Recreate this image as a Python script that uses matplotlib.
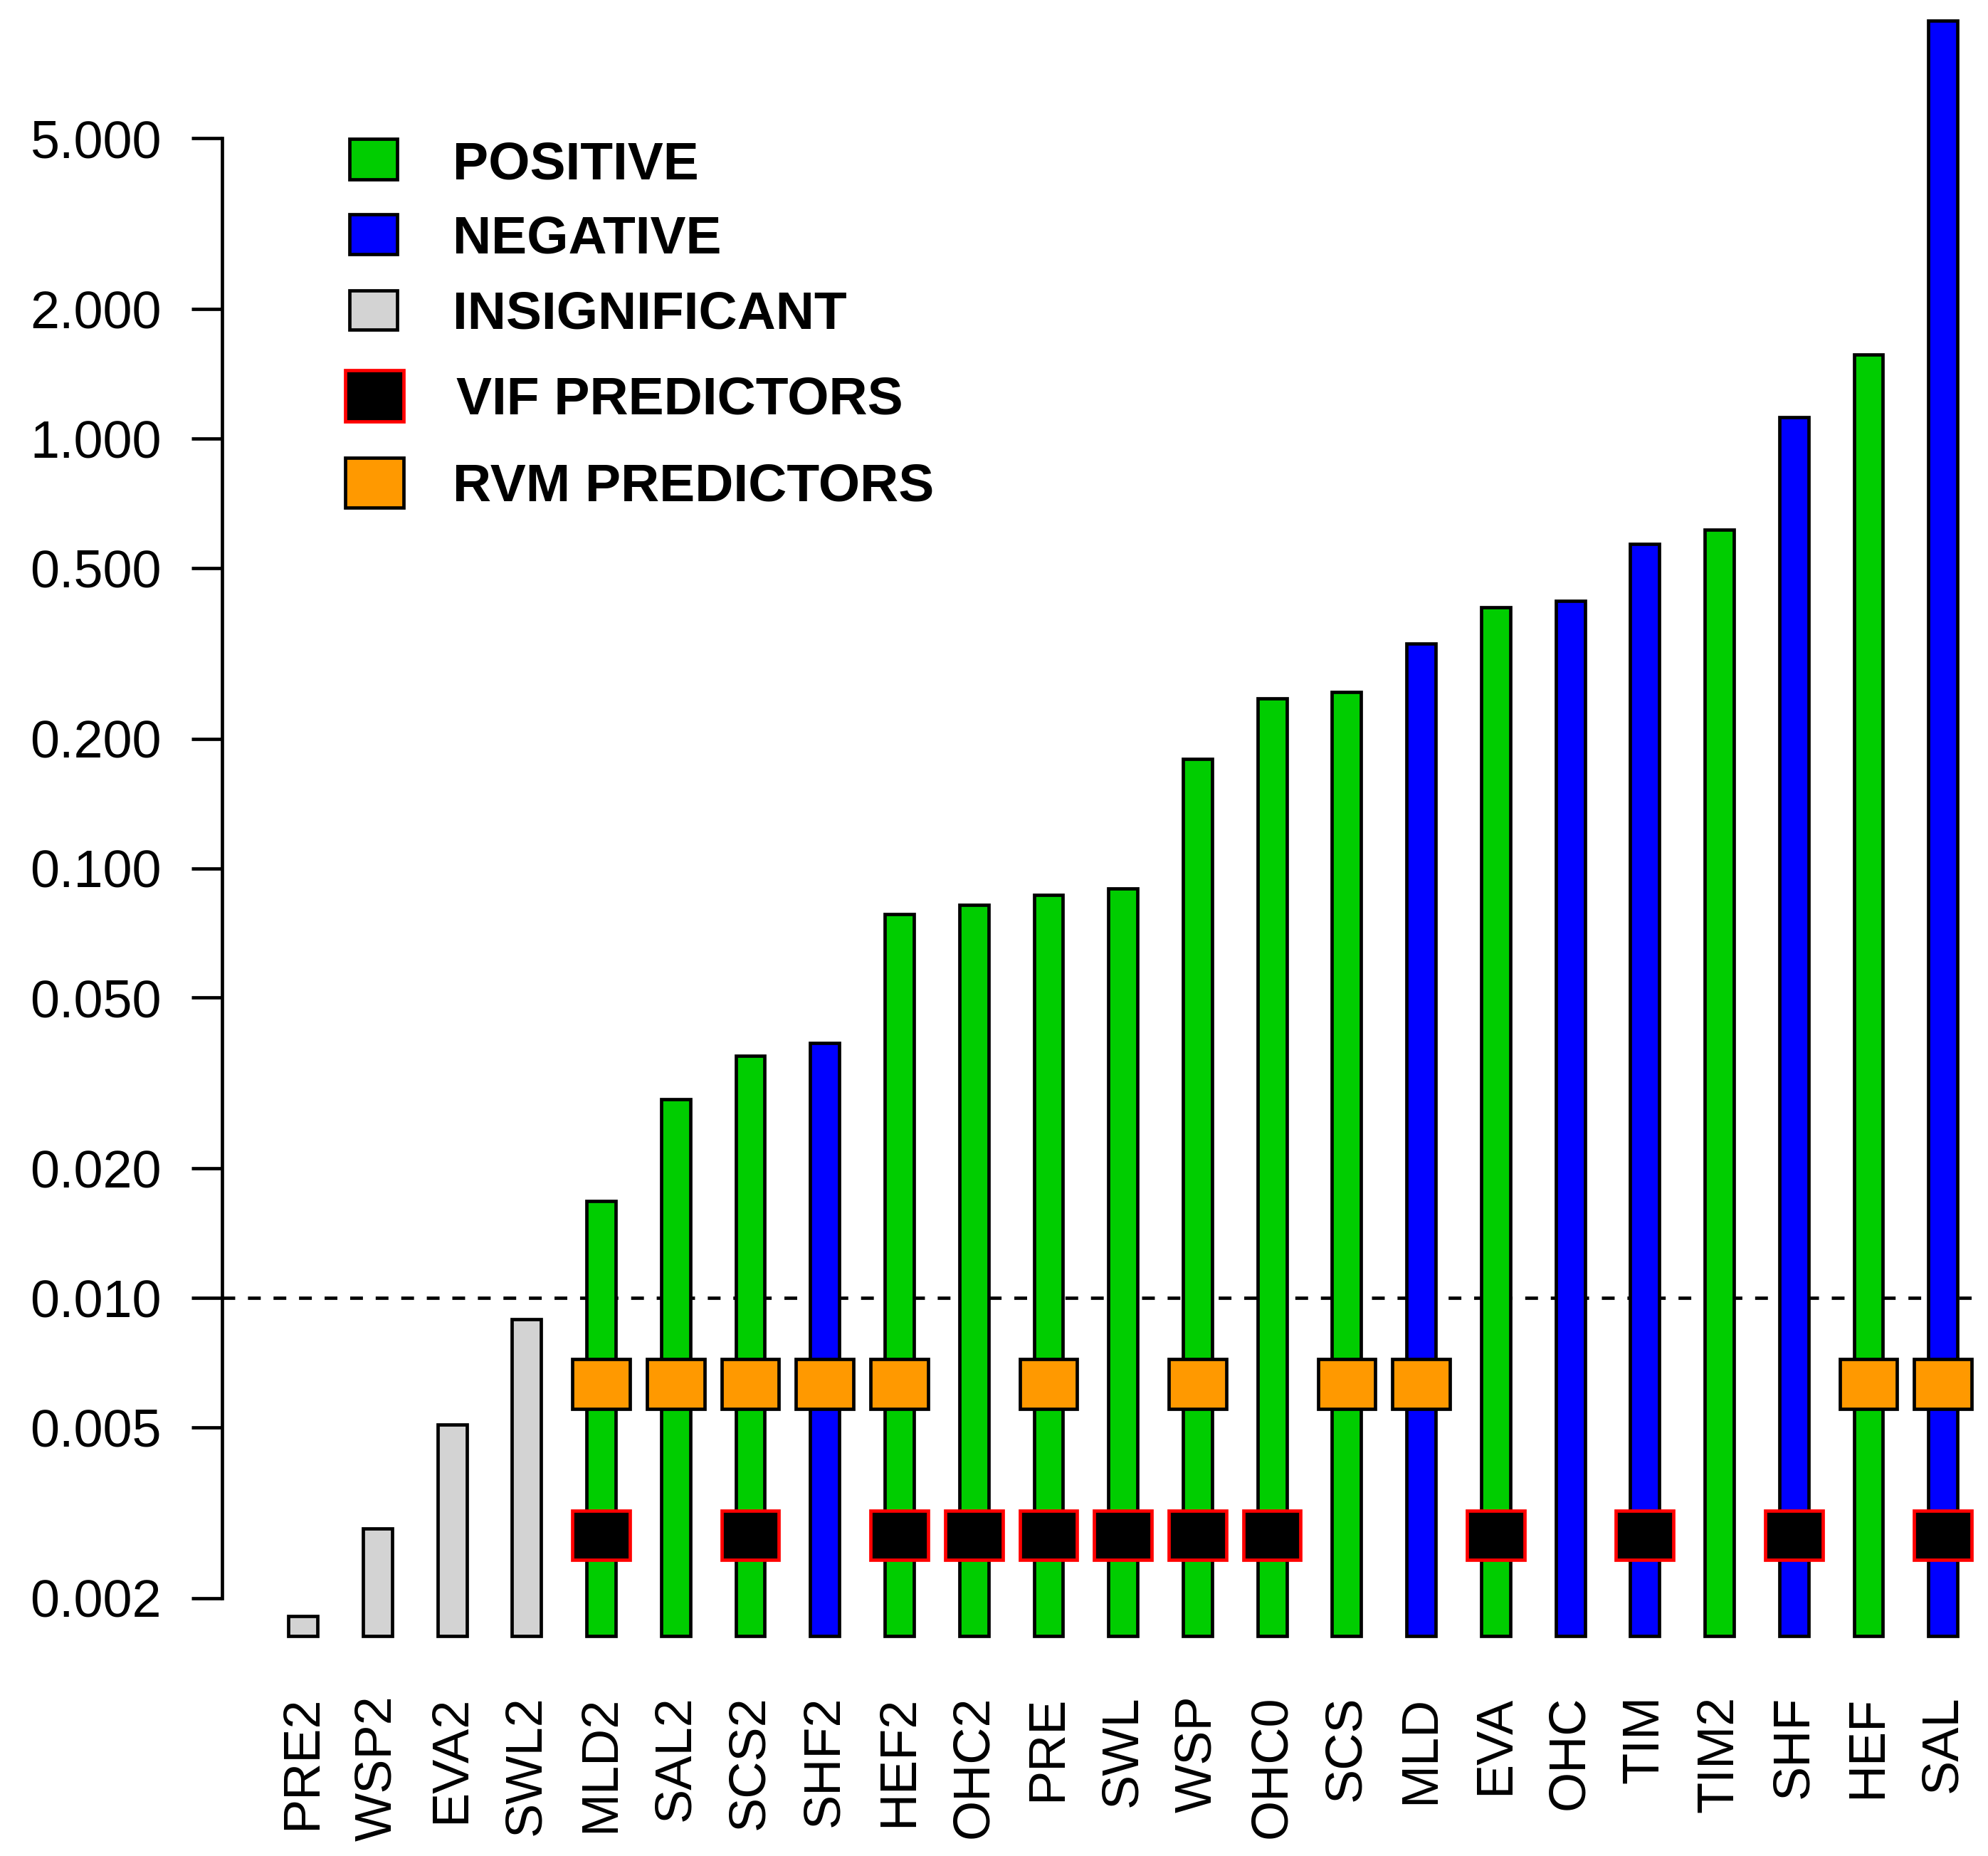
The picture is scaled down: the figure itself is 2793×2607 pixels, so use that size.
import matplotlib
matplotlib.use("Agg")
import matplotlib.pyplot as plt
from matplotlib.patches import Rectangle

plt.rcParams['font.family'] = ['Liberation Sans', 'DejaVu Sans']

# predictors, sorted by importance
names = ["PRE2", "WSP2", "EVA2", "SWL2", "MLD2", "SAL2", "SCS2", "SHF2", "HEF2",
         "OHC2", "PRE", "SWL", "WSP", "OHC0", "SCS", "MLD", "EVA", "OHC", "TIM",
         "TIM2", "SHF", "HEF", "SAL"]
values = [0.00182, 0.00290, 0.00507, 0.00891, 0.0168, 0.0290, 0.0366, 0.0392,
          0.0783, 0.0821, 0.0867, 0.0897, 0.1795, 0.248, 0.257, 0.333, 0.405,
          0.419, 0.569, 0.613, 1.12, 1.57, 9.4]
# P = positive, N = negative, I = insignificant
effect = ["I", "I", "I", "I", "P", "P", "P", "N", "P", "P", "P", "P", "P", "P",
          "P", "N", "P", "N", "N", "P", "N", "P", "N"]
rvm_predictors = ["MLD2", "SAL2", "SCS2", "SHF2", "HEF2", "PRE", "WSP", "SCS",
                  "MLD", "HEF", "SAL"]
vif_predictors = ["MLD2", "SCS2", "HEF2", "OHC2", "PRE", "SWL", "WSP", "OHC0",
                  "EVA", "TIM", "SHF", "SAL"]
y_ticks = [0.002, 0.005, 0.01, 0.02, 0.05, 0.1, 0.2, 0.5, 1, 2, 5]
threshold = 0.01
rvm_level = 0.0063
vif_level = 0.0028

legend_labels = ["POSITIVE", "NEGATIVE", "INSIGNIFICANT", "VIF PREDICTORS", "RVM PREDICTORS"]

colors = {"P": "#00CD00", "N": "#0000FF", "I": "#D3D3D3"}
ORANGE = "#FF9900"
LW = 3.4

W, H = 2793, 2607
fig = plt.figure(figsize=(W / 100, H / 100), dpi=100)
ax = fig.add_axes([0.1116, 0.1100, 0.88, 0.8852])
ax.set_yscale('log')
ax.set_ylim(0.0015, 10)
ax.set_xlim(-1.088, 22.38)

bar_bottom = 0.00163
x = list(range(len(names)))
ax.bar(x, [v - bar_bottom for v in values], bottom=bar_bottom, width=0.39,
       color=[colors[e] for e in effect], edgecolor='black', linewidth=LW,
       zorder=3, clip_on=False)

ax.axhline(threshold, color='black', linewidth=LW, linestyle=(0, (3.8, 3.8)), zorder=2)

# marker boxes drawn as short bars
half = 10 ** 0.0575
rvm_x = [names.index(n) for n in rvm_predictors]
vif_x = [names.index(n) for n in vif_predictors]
ax.bar(rvm_x, rvm_level * half - rvm_level / half, bottom=rvm_level / half,
       width=0.77, color=ORANGE, edgecolor='black', linewidth=LW, zorder=4, clip_on=False)
ax.bar(vif_x, vif_level * half - vif_level / half, bottom=vif_level / half,
       width=0.77, color='black', edgecolor='red', linewidth=LW, zorder=4, clip_on=False)

for side in ['top', 'right', 'bottom']:
    ax.spines[side].set_visible(False)
ax.spines['left'].set_bounds(y_ticks[0], y_ticks[-1])
ax.spines['left'].set_linewidth(LW)
ax.set_yticks(y_ticks)
ax.set_yticklabels(["%.3f" % t for t in y_ticks])
ax.yaxis.set_minor_locator(matplotlib.ticker.NullLocator())
ax.tick_params(axis='y', length=31, width=LW, pad=30, labelsize=53)

ax.set_xticks(x)
ax.set_xticklabels(names, rotation=90, va='top', ha='center')
ax.tick_params(axis='x', length=0, pad=44, labelsize=52)

# legend, placed by hand like the original
boxes = [(491, 195, 67, 57, colors["P"], 'black'),
         (491, 301, 67, 56, colors["N"], 'black'),
         (491, 408, 67, 55, colors["I"], 'black'),
         (485, 520, 82, 72, 'black', 'red'),
         (485, 643, 82, 70, ORANGE, 'black')]
text_pos = [(636, 251), (636, 356), (636, 462), (641, 582), (636, 704)]
for (bx, by, bw, bh, fc, ec), label, (tx, ty) in zip(boxes, legend_labels, text_pos):
    fig.patches.append(Rectangle((bx / W, 1 - (by + bh) / H), bw / W, bh / H,
                                 transform=fig.transFigure, facecolor=fc,
                                 edgecolor=ec, linewidth=LW))
    fig.text(tx / W, 1 - ty / H, label, fontsize=54, fontweight='bold',
             ha='left', va='baseline')

fig.savefig("out.png", dpi=100)
